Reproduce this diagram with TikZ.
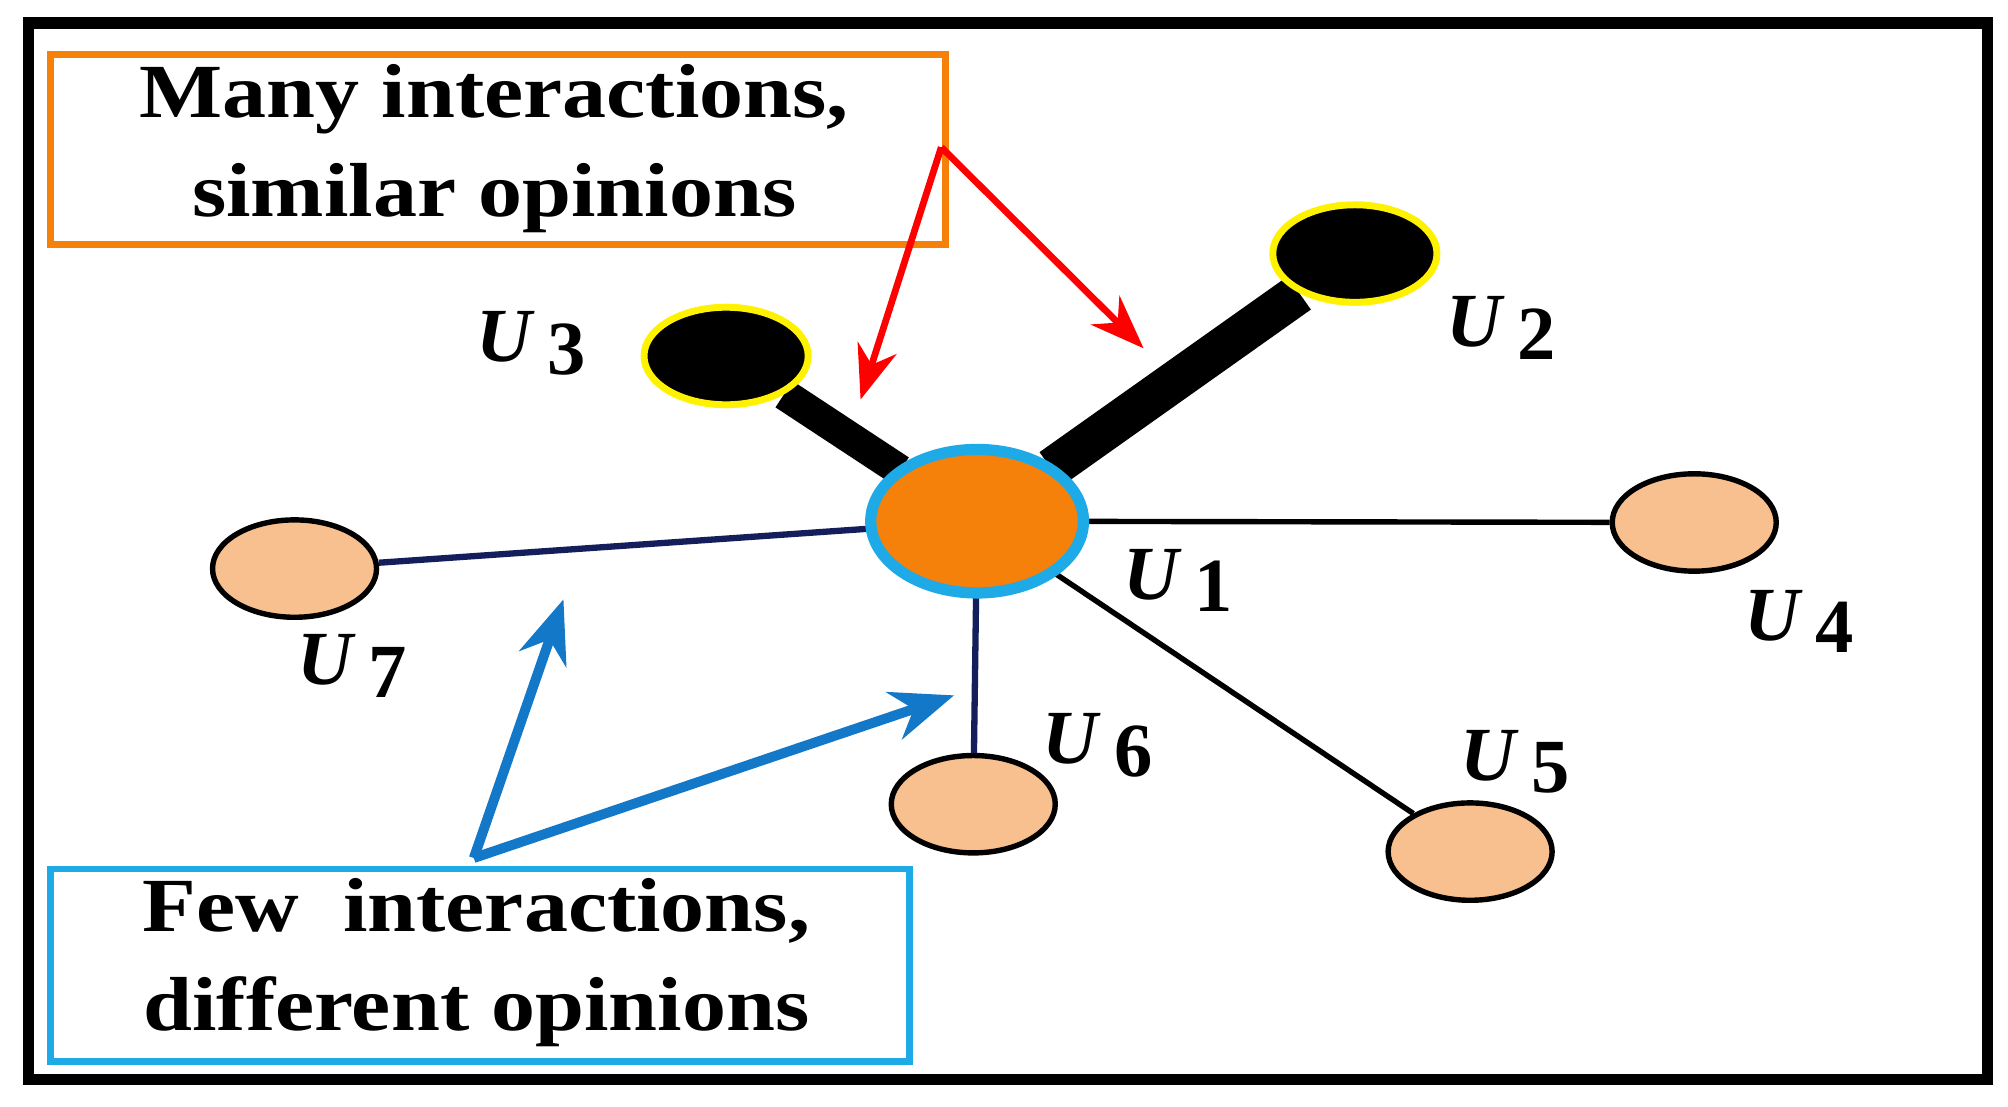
\documentclass[tikz,border=0pt]{standalone}
\usepackage{fontspec}
\setmainfont{Liberation Serif}
\usetikzlibrary{arrows.meta,shapes.geometric}
\definecolor{orng}{RGB}{245,128,10}
\definecolor{peach}{RGB}{248,192,142}
\definecolor{cyanb}{RGB}{30,170,230}
\definecolor{navy}{RGB}{20,30,90}
\definecolor{arblue}{RGB}{20,120,200}
\begin{document}
\begin{tikzpicture}[x=0.01cm,y=-0.01cm,
  big/.style={font=\fontsize{17}{22}\selectfont\bfseries,align=center,xscale=1.15},
  lab/.style={font=\fontsize{17}{20}\selectfont\bfseries},
  sm/.style={ellipse,inner sep=0pt,minimum width=1.28cm,minimum height=0.76cm,draw=black,line width=1.2pt,fill=peach},
  bk/.style={ellipse,inner sep=0pt,minimum width=1.28cm,minimum height=0.76cm,draw=yellow,line width=1.5pt,fill=black},
  red arr/.style={red,line width=1.5pt,-{Stealth[length=12pt,width=9pt]}},
  blue arr/.style={arblue,line width=2.2pt,-{Stealth[length=14pt,width=11pt]}}]
\useasboundingbox (0,0) rectangle (1568,864);
\draw[line width=2.5pt] (22,18) rectangle (1552,843);
\node[draw=orng,line width=1.5pt,inner sep=0pt,minimum width=6.98cm,minimum height=1.48cm,anchor=north west] (ob) at (37,40) {};
\node[big] (ot) at (386,116) {Many interactions,\\similar opinions};
\node[draw=cyanb,line width=1.5pt,inner sep=0pt,minimum width=6.70cm,minimum height=1.50cm,anchor=north west] (bb) at (37,676) {};
\node[big] (bt) at (372,752) {Few \ interactions,\\different opinions};
% nodes
\node[bk] (u2) at (1058,198) {};
\node[bk] (u3) at (567,278) {};
\node[sm] (u4) at (1323,408) {};
\node[sm] (u5) at (1148,665) {};
\node[sm] (u6) at (760,628) {};
\node[sm] (u7) at (230,444) {};
\node[ellipse,inner sep=0pt,minimum width=1.66cm,minimum height=1.12cm] (u1c) at (763,407) {};
% edges
\draw[line width=9pt] (u1c) -- (u2);
\draw[line width=7pt] (u1c) -- (u3);
\draw[line width=1.2pt] (u1c.center) -- (u4);
\draw[line width=1.2pt] (u1c.center) -- (u5);
\draw[navy,line width=1.4pt] (u1c.center) -- (u6);
\draw[navy,line width=1.4pt] (u1c.center) -- (u7);
\node[bk] at (u2) {};
\node[bk] at (u3) {};
\node[ellipse,inner sep=0pt,minimum width=1.66cm,minimum height=1.12cm,draw=cyanb,line width=2.5pt,fill=orng] (u1) at (763,407) {};
% labels
\node[lab] (l3) at (415,268) {\textit{U}\,\raisebox{-0.35ex}{3}};
\node[lab] (l2) at (1172,256) {\textit{U}\,\raisebox{-0.35ex}{2}};
\node[lab] (l1) at (920,453) {\textit{U}\,\raisebox{-0.35ex}{1}};
\node[lab] (l4) at (1405,485) {\textit{U}\,\raisebox{-0.35ex}{4}};
\node[lab] (l5) at (1183,595) {\textit{U}\,\raisebox{-0.35ex}{5}};
\node[lab] (l6) at (857,582) {\textit{U}\,\raisebox{-0.35ex}{6}};
\node[lab] (l7) at (275,520) {\textit{U}\,\raisebox{-0.35ex}{7}};
% arrows
\coordinate (ra) at (735,115);
\coordinate (rt1) at (672,312);
\coordinate (rt2) at (893,272);
\draw[red arr] (ra) -- (rt1);
\draw[red arr] (ra) -- (rt2);
\coordinate (ba) at (370,670);
\coordinate (bt1) at (440,468);
\coordinate (bt2) at (745,543);
\draw[blue arr] (ba) -- (bt1);
\draw[blue arr] (ba) -- (bt2);
\end{tikzpicture}
\end{document}
